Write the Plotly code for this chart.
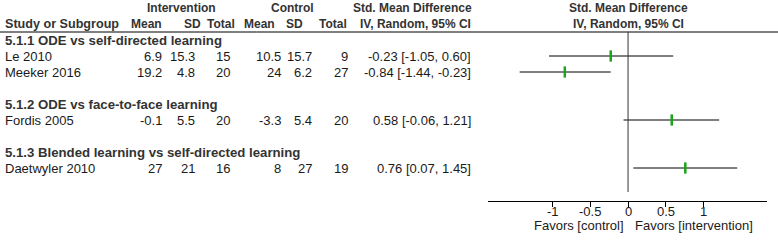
import plotly.graph_objects as go

# ---- data ----
studies = ["Le 2010", "Meeker 2016", "Fordis 2005", "Daetwyler 2010"]
int_mean = ["6.9", "19.2", "-0.1", "27"]
int_sd = ["15.3", "4.8", "5.5", "21"]
int_total = ["15", "20", "20", "16"]
ctl_mean = ["10.5", "24", "-3.3", "8"]
ctl_sd = ["15.7", "6.2", "5.4", "27"]
ctl_total = ["9", "27", "20", "19"]
smd = [-0.23, -0.84, 0.58, 0.76]
ci_low = [-1.05, -1.44, -0.06, 0.07]
ci_high = [0.60, -0.23, 1.21, 1.45]
study_rows = [3, 4, 7, 10]

subgroups = ["5.1.1 ODE vs self-directed learning",
             "5.1.2 ODE vs face-to-face learning",
             "5.1.3 Blended learning vs self-directed learning"]
subgroup_rows = [2, 6, 9]

tick_vals = [-1, -0.5, 0, 0.5, 1]
tick_text = ["-1", "-0.5", "0", "0.5", "1"]

FONT = "Liberation Sans, Arial, sans-serif"
FS = 13
FSB = 12
FSG = 13.2
TXT = "#1a1a1a"
HDR = "#333333"

W, H = 778, 240

fig = go.Figure()

# CI lines
for lo, hi, r in zip(ci_low, ci_high, study_rows):
    fig.add_trace(go.Scatter(x=[lo, hi], y=[r, r], mode="lines",
                             line=dict(color="black", width=1),
                             xaxis="x2", yaxis="y", hoverinfo="skip", showlegend=False))
# point estimates
fig.add_trace(go.Scatter(x=smd, y=study_rows, mode="markers",
                         marker=dict(symbol="line-ns", size=8,
                                     line=dict(color="#19a519", width=2.5)),
                         xaxis="x2", yaxis="y", hoverinfo="skip", showlegend=False))

ann = []
def T(x, y, s, anchor="right", bold=False, xref="x", size=None, xshift=0):
    ann.append(dict(x=x, y=y, xref=xref, yref="y", text=("<b>%s</b>" % s) if bold else s,
                    showarrow=False, xanchor=anchor, yanchor="middle", xshift=xshift,
                    font=dict(family=FONT, size=size or (FSB if bold else FS),
                              color=HDR if bold else TXT)))

# headers
T(181, 0, "Intervention", "center", True)
T(292, 0, "Control", "center", True)
T(474, 0, "Std. Mean Difference", "right", True)
T(0, 0, "Std. Mean Difference", "center", True, xref="x2")
T(3, 1, "Study or Subgroup", "left", True, size=12.6)
T(164, 1, "Mean", "right", True)
T(203, 1, "SD", "right", True)
T(237, 1, "Total", "right", True)
T(277, 1, "Mean", "right", True)
T(305, 1, "SD", "right", True)
T(349, 1, "Total", "right", True)
T(473, 1, "IV, Random, 95% CI", "right", True)
T(0, 1, "IV, Random, 95% CI", "center", True, xref="x2")

for s, r in zip(subgroups, subgroup_rows):
    T(3, r, s, "left", True, size=FSG)

for i, r in enumerate(study_rows):
    T(3, r, studies[i], "left")
    T(164, r, int_mean[i])
    T(197, r, int_sd[i])
    T(232, r, int_total[i])
    T(283, r, ctl_mean[i])
    T(314, r, ctl_sd[i])
    T(350, r, ctl_total[i])
    T(473, r, "%.2f [%.2f, %.2f]" % (smd[i], ci_low[i], ci_high[i]))

# axis tick labels and favour labels
for v, t in zip(tick_vals, tick_text):
    T(v, 12.7, t, "center", xref="x2")
T(0, 13.6, "Favors [control]", "right", xref="x2", xshift=-2)
T(0, 13.6, "Favors [intervention]", "left", xref="x2", xshift=5)

shapes = [
    dict(type="line", xref="paper", yref="y", x0=0, x1=1, y0=1.5, y1=1.5,
         line=dict(color="black", width=1)),
    dict(type="line", xref="x2", yref="y", x0=0, x1=0, y0=1.5, y1=11.5,
         line=dict(color="#333333", width=1)),
]

fig.update_layout(
    width=W, height=H, margin=dict(l=0, r=0, t=0, b=0),
    paper_bgcolor="white", plot_bgcolor="rgba(0,0,0,0)",
    showlegend=False, annotations=ann, shapes=shapes,
    xaxis=dict(domain=[0, 1], range=[0, W], visible=False),
    yaxis=dict(domain=[0, 1], range=[14.5, -0.5], visible=False),
    xaxis2=dict(domain=[488 / W, 767 / W], range=[-1.86, 1.845],
                anchor="free", position=(H - 200.5) / H,
                showline=True, linecolor="black", linewidth=1,
                ticks="outside", ticklen=5, tickcolor="black", tickwidth=1,
                tickvals=tick_vals, showticklabels=False,
                showgrid=False, zeroline=False),
)

fig.write_html("out.html", config={"displayModeBar": False},
               post_script="document.body.style.margin='0';document.body.style.padding='0';")
